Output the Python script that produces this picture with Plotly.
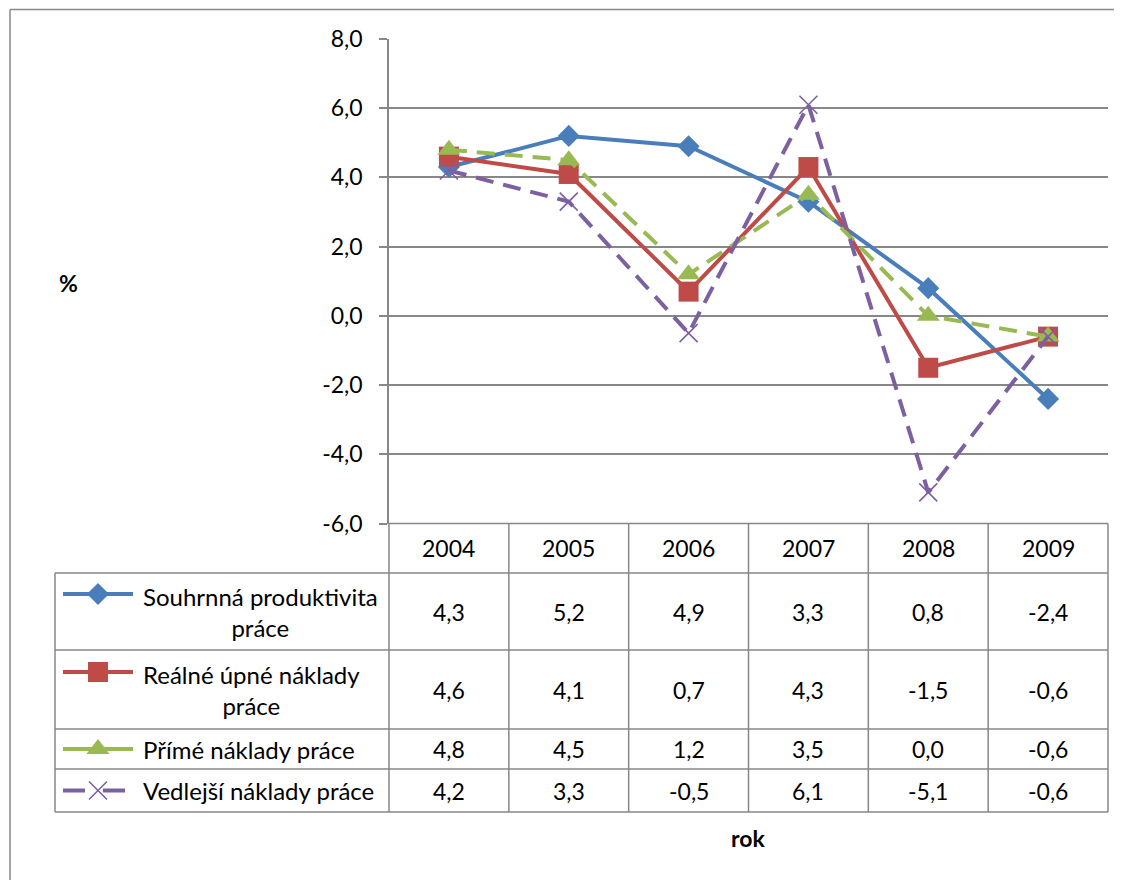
import plotly.graph_objects as go

# data
years = ["2004", "2005", "2006", "2007", "2008", "2009"]
souhrnna = [4.3, 5.2, 4.9, 3.3, 0.8, -2.4]
realne = [4.6, 4.1, 0.7, 4.3, -1.5, -0.6]
prime = [4.8, 4.5, 1.2, 3.5, 0.0, -0.6]
vedlejsi = [4.2, 3.3, -0.5, 6.1, -5.1, -0.6]
series_labels = ["Souhrnná produktivita<br>práce", "Reálné úpné náklady<br>práce",
                 "Přímé náklady práce", "Vedlejší náklady práce"]
y_tick_vals = [-6, -4, -2, 0, 2, 4, 6, 8]
y_tick_labels = ["-6,0", "-4,0", "-2,0", "0,0", "2,0", "4,0", "6,0", "8,0"]

W, H = 1122, 880
OFF = 8  # page body margin, screen px = figure px + OFF
FONT = "Lato"
FS = 23
GRID = "#878787"

styles = [
    dict(color="#4A7EBB", dash="solid", symbol="diamond", size=17),
    dict(color="#BE4B48", dash="solid", symbol="square", size=20),
    dict(color="#98B954", dash="18px,10px", symbol="triangle-up", size=20),
    dict(color="#7D60A0", dash="18px,10px", symbol="x-thin", size=18),
]
values = [souhrnna, realne, prime, vedlejsi]

# screen-pixel layout of the plot area and the data table
left, right = 389, 1108
top, bottom = 39, 523.5
row_edges = [523.5, 573, 650, 729, 769, 812]
key_left, key_right, text_x = 63, 133, 141
col_w = (right - left) / len(years)


def marker_of(st):
    return dict(symbol=st["symbol"], size=st["size"], color=st["color"],
                line=dict(color=st["color"], width=1.6 if st["symbol"] == "x-thin" else 0))


fig = go.Figure()

for vals, st, lab in zip(values, styles, series_labels):
    fig.add_trace(go.Scatter(
        x=years, y=vals, mode="lines+markers", name=lab.replace("<br>", " "),
        line=dict(color=st["color"], width=4, dash=st["dash"]),
        marker=marker_of(st), cliponaxis=False, showlegend=False))

# legend keys inside the table (second axes in screen pixels)
for i, (st, lab) in enumerate(zip(styles, series_labels)):
    y0, y1 = row_edges[i + 1], row_edges[i + 2]
    two = "<br>" in lab
    ky = (y0 + y1) / 2 - (17.5 if two else 0)
    fig.add_trace(go.Scatter(
        x=[key_left, key_right], y=[ky, ky], mode="lines", xaxis="x2", yaxis="y2",
        line=dict(color=st["color"], width=4,
                  dash="solid" if st["symbol"] != "x-thin" else "22px,18px"),
        showlegend=False, hoverinfo="skip"))
    fig.add_trace(go.Scatter(
        x=[(key_left + key_right) / 2], y=[ky], mode="markers", xaxis="x2", yaxis="y2",
        marker=marker_of(st), showlegend=False, hoverinfo="skip"))

shapes = []
ln = dict(color=GRID, width=1.5)


def hline(x0, x1, y):
    shapes.append(dict(type="line", xref="x2", yref="y2", x0=x0, x1=x1, y0=y, y1=y, line=ln))


def vline(x, y0, y1):
    shapes.append(dict(type="line", xref="x2", yref="y2", x0=x, x1=x, y0=y0, y1=y1, line=ln))


# table grid
hline(left, right, row_edges[0])
for y in row_edges[1:]:
    hline(55, right, y)
for k in range(len(years) + 1):
    vline(left + k * col_w, row_edges[0], row_edges[-1])
vline(55, row_edges[1], row_edges[-1])
# outer chart border
hline(10, W + 20, 9.5)
vline(10, 9.5, H + 20)

annotations = []
font = dict(family=FONT, size=FS, color="black")
for k, yr in enumerate(years):
    annotations.append(dict(xref="x2", yref="y2", x=left + (k + 0.5) * col_w,
                            y=(row_edges[0] + row_edges[1]) / 2, text=yr,
                            showarrow=False, font=font))
for i, (vals, lab) in enumerate(zip(values, series_labels)):
    yc = (row_edges[i + 1] + row_edges[i + 2]) / 2
    annotations.append(dict(xref="x2", yref="y2", x=text_x, y=yc, text=lab,
                            xanchor="left", align="center", showarrow=False,
                            font=dict(family=FONT, size=24, color="black")))
    for k, v in enumerate(vals):
        annotations.append(dict(xref="x2", yref="y2", x=left + (k + 0.5) * col_w, y=yc,
                                text=f"{v:.1f}".replace(".", ","), showarrow=False, font=font))
annotations.append(dict(xref="x2", yref="y2", x=57, y=283, text="<b>%</b>",
                        xanchor="left", showarrow=False, font=font))
annotations.append(dict(xref="x2", yref="y2", x=748, y=838, text="<b>rok</b>",
                        showarrow=False, font=font))

fig.update_layout(
    width=W, height=H,
    margin=dict(l=0, r=0, t=0, b=0, autoexpand=False),
    plot_bgcolor="rgba(0,0,0,0)", paper_bgcolor="white",
    font=dict(family=FONT, size=FS, color="black"),
    xaxis=dict(domain=[(left - OFF) / W, (right - OFF) / W], range=[-0.5, 5.5],
               type="category", showgrid=False, showline=False, showticklabels=False,
               zeroline=False, automargin=False),
    yaxis=dict(domain=[1 - (bottom - OFF) / H, 1 - (top - OFF) / H], range=[-6, 8],
               tickvals=y_tick_vals, ticktext=y_tick_labels,
               showgrid=True, gridcolor=GRID, gridwidth=1.5, zeroline=False,
               showline=True, linecolor=GRID, linewidth=1.5,
               ticks="outside", ticklen=8, tickcolor=GRID, tickwidth=1.5,
               ticklabelstandoff=12, automargin=False,
               tickfont=dict(family=FONT, size=FS, color="black")),
    xaxis2=dict(domain=[0, 1], range=[OFF, W + OFF], anchor="y2", visible=False,
                automargin=False),
    yaxis2=dict(domain=[0, 1], range=[H + OFF, OFF], anchor="x2", visible=False,
                automargin=False),
    shapes=shapes,
    annotations=annotations,
)

fig.write_html("out.html")
